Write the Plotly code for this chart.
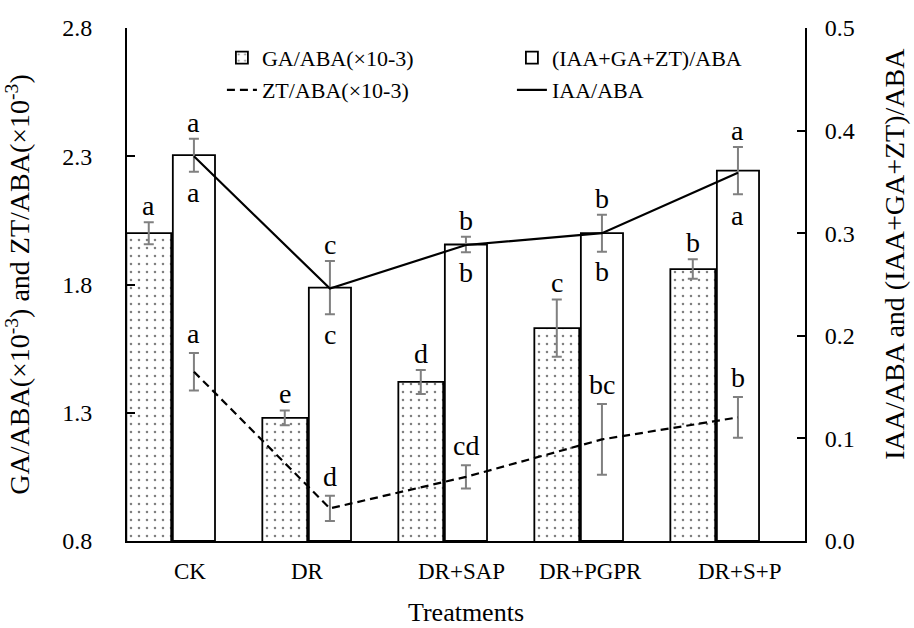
import plotly.graph_objects as go

# ---------------- data ----------------
categories = ["CK", "DR", "DR+SAP", "DR+PGPR", "DR+S+P"]

ga_aba = [2.00, 1.28, 1.42, 1.63, 1.86]          # GA/ABA (x10-3), left axis
ga_aba_err = [0.043, 0.029, 0.047, 0.112, 0.038]
ga_aba_sig = ["a", "e", "d", "c", "b"]

total_aba = [0.376, 0.247, 0.289, 0.300, 0.361]  # (IAA+GA+ZT)/ABA, right axis
total_aba_err = [0.016, 0.026, 0.0075, 0.018, 0.023]
total_aba_sig = ["a", "c", "b", "b", "a"]

zt_aba = [1.46, 0.927, 1.05, 1.196, 1.282]       # ZT/ABA (x10-3), left axis
zt_aba_err = [0.073, 0.049, 0.045, 0.138, 0.079]
zt_aba_sig = ["a", "d", "cd", "bc", "b"]

iaa_aba = [0.375, 0.246, 0.2885, 0.300, 0.359]   # IAA/ABA, right axis
iaa_aba_sig = ["a", "c", "b", "b", "a"]

# ---------------- layout helpers ----------------
FONT = "Liberation Serif, Times New Roman, serif"
idx = list(range(len(categories)))
BAR_W1, BAR_OFF1 = 0.33, -0.335
BAR_W2, BAR_OFF2 = 0.31, 0.007
ga_x = [i + BAR_OFF1 + BAR_W1 / 2 for i in idx]
tot_x = [i + BAR_OFF2 + BAR_W2 / 2 for i in idx]
ERR_COLOR = "#808080"

fig = go.Figure()

fig.add_trace(go.Bar(
    x=idx, y=ga_aba, name="GA/ABA(×10-3)", offset=BAR_OFF1, width=BAR_W1,
    marker=dict(color="white", line=dict(color="black", width=1.8),
                pattern=dict(shape=".", fgcolor="black", bgcolor="white",
                             size=8, solidity=0.08)),
    error_y=dict(type="data", array=ga_aba_err, color=ERR_COLOR, thickness=2, width=5),
    yaxis="y", legend="legend",
))
fig.add_trace(go.Bar(
    x=idx, y=total_aba, name="(IAA+GA+ZT)/ABA", offset=BAR_OFF2, width=BAR_W2,
    marker=dict(color="rgba(255,255,255,0)", line=dict(color="black", width=1.8)),
    error_y=dict(type="data", array=total_aba_err, color=ERR_COLOR, thickness=2, width=5),
    yaxis="y2", legend="legend",
))
fig.add_trace(go.Scatter(
    x=tot_x, y=zt_aba, name="ZT/ABA(×10-3)", mode="lines",
    line=dict(color="black", width=2.2, dash="8px,5px"),
    error_y=dict(type="data", array=zt_aba_err, color=ERR_COLOR, thickness=2, width=5),
    yaxis="y", legend="legend2",
))
fig.add_trace(go.Scatter(
    x=tot_x, y=iaa_aba, name="IAA/ABA", mode="lines",
    line=dict(color="black", width=2.2),
    yaxis="y2", legend="legend2",
))

# ---------------- annotations ----------------
ann = []
LET = dict(family=FONT, size=28, color="black")
for i in idx:
    ann.append(dict(x=ga_x[i], y=ga_aba[i] + ga_aba_err[i], xref="x", yref="y",
                    text=ga_aba_sig[i], showarrow=False, yanchor="bottom",
                    yshift=0, font=LET, borderpad=0))
    ann.append(dict(x=tot_x[i], y=total_aba[i] + total_aba_err[i], xref="x", yref="y2",
                    text=total_aba_sig[i], showarrow=False, yanchor="bottom",
                    yshift=0, font=LET, borderpad=0))
    ann.append(dict(x=tot_x[i], y=iaa_aba[i] - total_aba_err[i], xref="x", yref="y2",
                    text=iaa_aba_sig[i], showarrow=False, yanchor="top",
                    yshift=-3, font=LET, borderpad=0))
    ann.append(dict(x=tot_x[i], y=zt_aba[i] + zt_aba_err[i], xref="x", yref="y",
                    text=zt_aba_sig[i], showarrow=False, yanchor="bottom",
                    yshift=3, font=LET, borderpad=0))

# category labels (placed as in the original figure)
label_shift = [18, 0, 18, 11, 24]
for i in idx:
    ann.append(dict(x=i, y=0, xref="x", yref="paper", text=categories[i],
                    showarrow=False, yanchor="top", yshift=-16, xshift=label_shift[i],
                    font=dict(family=FONT, size=23, color="black")))

# right axis title
ann.append(dict(x=1, y=0.56, xref="paper", yref="paper",
                text="IAA/ABA and (IAA+GA+ZT)/ABA", textangle=-90,
                showarrow=False, xanchor="center", yanchor="middle", xshift=90,
                font=dict(family=FONT, size=28, color="black")))

axis_common = dict(showgrid=False, zeroline=False, showline=True, linecolor="black",
                   linewidth=2, ticks="inside", ticklen=8, tickwidth=2, tickcolor="black",
                   automargin=False,
                   tickfont=dict(family=FONT, size=24, color="black"))

fig.update_layout(
    width=914, height=628,
    margin=dict(l=127, r=109, t=28, b=87),
    paper_bgcolor="white", plot_bgcolor="white",
    barmode="overlay",
    showlegend=True,
    xaxis=dict(range=[-0.33, 4.655], showgrid=False, zeroline=False, showline=True,
               linecolor="black", linewidth=2, ticks="", showticklabels=False,
               automargin=False,
               title=dict(text="Treatments", standoff=61,
                          font=dict(family=FONT, size=26, color="black"))),
    yaxis=dict(range=[0.8, 2.8], tickvals=[0.8, 1.3, 1.8, 2.3, 2.8], tickformat=".1f",
               ticklabelstandoff=28,
               title=dict(text="GA/ABA(×10<sup>-3</sup>) and ZT/ABA(×10<sup>-3</sup>)",
                          standoff=24, font=dict(family=FONT, size=28, color="black")),
               **axis_common),
    yaxis2=dict(range=[0, 0.5], dtick=0.1, tickformat=".1f", overlaying="y", side="right",
                ticklabelstandoff=13, **axis_common),
    legend=dict(orientation="h", x=0.14, y=0.942, xanchor="left", yanchor="middle",
                entrywidth=245, entrywidthmode="pixels", bgcolor="rgba(0,0,0,0)",
                font=dict(family=FONT, size=22, color="black"), traceorder="normal"),
    legend2=dict(orientation="h", x=0.14, y=0.879, xanchor="left", yanchor="middle",
                 entrywidth=245, entrywidthmode="pixels", bgcolor="rgba(0,0,0,0)",
                 font=dict(family=FONT, size=22, color="black"), traceorder="normal"),
    annotations=ann,
)

fig.write_html("out.html", config={"displayModeBar": False},
               post_script="document.body.style.margin='0px';")
